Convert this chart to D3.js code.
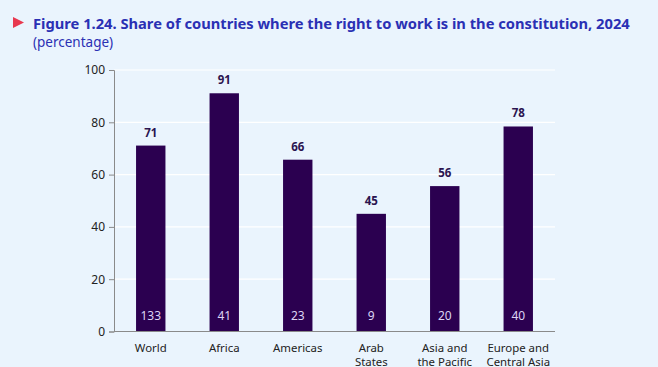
<!DOCTYPE html>
<html><head><meta charset="utf-8">
<script src="https://cdn.jsdelivr.net/npm/d3@7"></script>
<style>
html,body{margin:0;padding:0;background:#eaf4fd;}
svg{display:block;font-family:"Noto Sans",sans-serif;}
</style></head><body>
<svg id="c" width="658" height="367"></svg>
<script>
const categories = [["World"],["Africa"],["Americas"],["Arab","States"],["Asia and","the Pacific"],["Europe and","Central Asia"]];
const shares = [71.1, 91.1, 65.7, 45.0, 55.6, 78.4];
const counts = [133, 41, 23, 9, 20, 40];
const yTicks = [0, 20, 40, 60, 80, 100];

const svg = d3.select("#c");
svg.append("rect").attr("width",658).attr("height",367).attr("fill","#eaf4fd");

// title
svg.append("path").attr("d","M13,17 L24,22.5 L13,28 Z").attr("fill","#e8384f");
svg.append("text").attr("x",33).attr("y",29).attr("fill","#2a30b4")
  .attr("font-size",14.7).attr("font-weight","bold")
  .text("Figure 1.24. Share of countries where the right to work is in the constitution, 2024");
svg.append("text").attr("x",33).attr("y",46.5).attr("fill","#2a30b4")
  .attr("font-size",13.5).text("(percentage)");

const x = d3.scaleBand().domain(d3.range(categories.length)).range([114,555]).paddingInner(0.6).paddingOuter(0.3);
const y = d3.scaleLinear().domain([0,100]).range([331.5,70]);

// grid
svg.append("g").selectAll("line").data(yTicks.filter(d=>d>0)).join("line")
  .attr("x1",114).attr("x2",555).attr("y1",d=>y(d)).attr("y2",d=>y(d))
  .attr("stroke","#ffffff").attr("stroke-width",1.2);

// y axis
const ya = svg.append("g").attr("transform","translate(114,0)")
  .call(d3.axisLeft(y).tickValues(yTicks).tickSize(5).tickPadding(4));
ya.select(".domain").attr("stroke","#8a8a8a");
ya.selectAll(".tick line").attr("stroke","#8a8a8a");
ya.selectAll(".tick text").attr("font-size",12).attr("fill","#222").attr("font-family","Noto Sans");

// bars
svg.append("g").selectAll("rect").data(shares).join("rect")
  .attr("x",(d,i)=>x(i)).attr("width",x.bandwidth())
  .attr("y",d=>y(d)).attr("height",d=>y(0)-y(d)).attr("fill","#2b0050");

// x axis line
svg.append("line").attr("x1",114).attr("x2",555).attr("y1",y(0)).attr("y2",y(0)).attr("stroke","#8a8a8a");

// value labels
svg.append("g").selectAll("text").data(shares).join("text")
  .attr("x",(d,i)=>x(i)+x.bandwidth()/2).attr("y",d=>y(d)-9)
  .attr("text-anchor","middle").attr("font-size",11.5).attr("font-weight","bold").attr("fill","#2b1450")
  .text(d=>Math.round(d));

// counts
svg.append("g").selectAll("text").data(counts).join("text")
  .attr("x",(d,i)=>x(i)+x.bandwidth()/2).attr("y",y(0)-11.5)
  .attr("text-anchor","middle").attr("font-size",12).attr("fill","#dcd4f4")
  .text(d=>d);

// category labels
const cl = svg.append("g").selectAll("text").data(categories).join("text")
  .attr("x",(d,i)=>x(i)+x.bandwidth()/2).attr("y",352)
  .attr("text-anchor","middle").attr("font-size",11.4).attr("fill","#222");
cl.selectAll("tspan").data(d=>d).join("tspan")
  .attr("x",function(){return d3.select(this.parentNode).attr("x");})
  .attr("dy",(d,i)=>i===0?0:13.5).text(d=>d);
</script>
</body></html>
